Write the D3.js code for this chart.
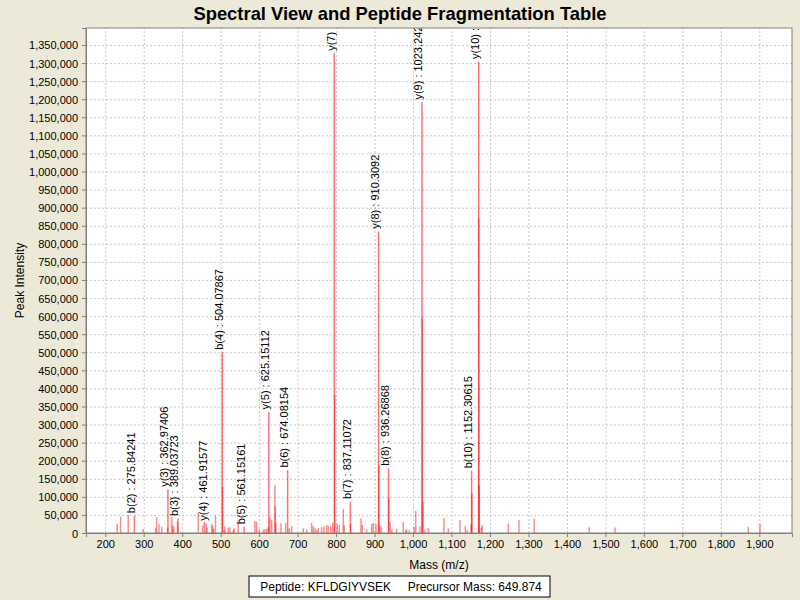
<!DOCTYPE html>
<html>
<head>
<meta charset="utf-8">
<script src="https://cdn.jsdelivr.net/npm/d3@7"></script>
<style>
  body { margin: 0; background: #ece9d8; overflow: hidden; }
  svg { font-family: "Liberation Sans", Arial, sans-serif; display: block; }
  .grid line { stroke: #c8c8c8; stroke-dasharray: 2,2; }
  .grid .domain { display: none; }
  .axis text { font-size: 11px; fill: #000; }
  .axis line, .axis path { stroke: #808080; }
</style>
</head>
<body>
<svg id="chart" width="800" height="600"></svg>
<script>
// unannotated peaks (m/z, intensity)
const peakMz = [231.2, 240.0, 259.8, 298.8, 331.0, 333.6, 339.6, 346.6, 362.2, 372.6,
  375.2, 377.8, 388.0, 441.7, 453.2, 457.3, 465.1, 476.6, 479.2, 481.8, 486.5, 505.1,
  508.5, 511.0, 519.8, 524.0, 532.7, 535.0, 545.6, 589.0, 593.5, 600.0, 610.7, 615.0,
  619.5, 623.7, 628.0, 632.5, 641.0, 642.0, 643.7, 656.7, 669.0, 678.3, 684.5, 714.7,
  723.5, 736.5, 740.7, 745.0, 749.5, 753.7, 762.5, 768.5, 775.5, 779.7, 786.0, 791.1,
  796.8, 803.0, 808.3, 818.7, 821.3, 838.0, 864.7, 868.0, 879.5, 892.5, 896.7, 903.7,
  911.2, 913.0, 917.5, 937.0, 940.5, 944.8, 957.5, 974.6, 981.0, 983.5, 990.5, 1003.0,
  1007.0, 1018.0, 1024.0, 1026.6, 1031.0, 1039.6, 1080.4, 1091.6, 1122.0, 1135.8,
  1141.0, 1150.5, 1153.0, 1171.2, 1172.0, 1177.4, 1180.0, 1247.6, 1275.4, 1315.2,
  1458.0, 1525.0, 1871.5, 1901.8];
const peakIntensity = [25000, 45000, 50000, 11000, 13000, 44000, 25000, 17000, 15000, 44000,
  22000, 17000, 31000, 57000, 20000, 31000, 15000, 25000, 20000, 12000, 49000, 127000,
  8000, 19000, 15000, 16000, 8000, 13000, 36000, 33000, 31000, 10000, 10000, 11000,
  12000, 17000, 43000, 36000, 133000, 73000, 27000, 27000, 28000, 13000, 19000, 13000,
  10000, 28000, 19000, 13000, 8000, 13000, 16000, 19000, 22000, 19000, 20000, 28000,
  382000, 25000, 22000, 66000, 22000, 25000, 40000, 22000, 10000, 25000, 27000, 25000,
  188000, 22000, 17000, 96000, 30000, 10000, 12000, 31000, 8000, 10000, 8000, 17000,
  61000, 19000, 595000, 87000, 10000, 13000, 42000, 13000, 36000, 19000,
  8000, 24000, 110000, 870000, 133000, 15000, 22000, 27000, 36000, 40000,
  16000, 15000, 17000, 25000];

// annotated fragment ions
const ionLabels = ["b(2)", "y(3)", "b(3)", "y(4)", "b(4)", "b(5)", "y(5)", "b(6)", "y(7)",
  "b(7)", "y(8)", "b(8)", "y(9)", "b(10)", "y(10)"];
const ionMz = [275.84241, 362.97406, 389.03723, 461.91577, 504.07867, 561.15161, 625.15112,
  674.08154, 795.34108, 837.11072, 910.3092, 936.26868, 1023.24213, 1152.30615, 1170.52241];
const ionIntensity = [48000, 121000, 40000, 27000, 500000, 17000, 335000, 174000, 1327000,
  87000, 835000, 179000, 1192000, 172000, 1304000];

const titleText = "Spectral View and Peptide Fragmentation Table";
const legendText = "Peptide: KFLDGIYVSEK     Precursor Mass: 649.874";

const svg = d3.select("#chart");
const width = +svg.attr("width");
const height = +svg.attr("height");
const margin = { top: 28, left: 86, right: 8, bottom: 67 };
const innerWidth = width - margin.left - margin.right;
const innerHeight = height - margin.top - margin.bottom;

const xScale = d3.scaleLinear().domain([150, 1985]).range([0, innerWidth]);
const yScale = d3.scaleLinear().domain([0, 1397000]).range([innerHeight, 0]);

svg.append("text")
  .attr("x", 400).attr("y", 20)
  .attr("text-anchor", "middle")
  .attr("font-size", 18.4).attr("font-weight", "bold")
  .text(titleText);

const chart = svg.append("g")
  .attr("transform", `translate(${margin.left},${margin.top})`);

chart.append("rect")
  .attr("width", innerWidth).attr("height", innerHeight)
  .attr("fill", "#fff");

chart.append("defs").append("clipPath").attr("id", "plotclip")
  .append("rect").attr("width", innerWidth).attr("height", innerHeight);

const xTicks = d3.range(200, 1901, 100);
const yTicks = d3.range(0, 1350001, 50000);

// gridlines (no labels)
chart.append("g").attr("class", "grid")
  .attr("transform", `translate(0,${innerHeight})`)
  .call(d3.axisBottom(xScale).tickValues(xTicks).tickSize(-innerHeight).tickFormat(""))
  .selectAll("text").remove();
chart.append("g").attr("class", "grid")
  .call(d3.axisLeft(yScale).tickValues(yTicks).tickSize(-innerWidth).tickFormat(""))
  .selectAll("text").remove();

const plot = chart.append("g").attr("clip-path", "url(#plotclip)");

plot.selectAll(".peak").data(peakMz).enter().append("line")
  .attr("class", "peak")
  .attr("x1", (d) => xScale(d)).attr("x2", (d) => xScale(d))
  .attr("y1", innerHeight)
  .attr("y2", (d, i) => yScale(peakIntensity[i]))
  .attr("stroke", "#ff0000").attr("stroke-opacity", 0.45).attr("stroke-width", 1.5);

plot.selectAll(".ion").data(ionMz).enter().append("line")
  .attr("class", "ion")
  .attr("x1", (d) => xScale(d)).attr("x2", (d) => xScale(d))
  .attr("y1", innerHeight)
  .attr("y2", (d, i) => yScale(ionIntensity[i]))
  .attr("stroke", "#ff0000").attr("stroke-opacity", 0.55).attr("stroke-width", 1.5);

plot.selectAll(".ionlabel").data(ionMz).enter().append("text")
  .attr("class", "ionlabel")
  .attr("transform", (d, i) => `translate(${xScale(d) + 0.5},${yScale(ionIntensity[i]) - 2.5}) rotate(-90)`)
  .attr("font-size", 11)
  .text((d, i) => `${ionLabels[i]} : ${d}`);

// axes
const fmt = d3.format(",");
chart.append("g").attr("class", "axis")
  .attr("transform", `translate(0,${innerHeight})`)
  .call(d3.axisBottom(xScale).tickValues(xTicks).tickSizeOuter(0).tickSize(4).tickPadding(3).tickFormat(fmt))
  .attr("font-family", null);
const yAxisG = chart.append("g").attr("class", "axis")
  .call(d3.axisLeft(yScale).tickValues(yTicks).tickSizeOuter(0).tickSize(4).tickFormat(fmt))
  .attr("font-family", null);
yAxisG.selectAll("text")
  .attr("x", -8).attr("dy", null).attr("y", 4)
  .attr("text-anchor", "end");

chart.append("rect")
  .attr("width", innerWidth).attr("height", innerHeight)
  .attr("fill", "none").attr("stroke", "#808080");

chart.append("text")
  .attr("x", innerWidth / 2).attr("y", innerHeight + 36)
  .attr("text-anchor", "middle").attr("font-size", 12)
  .text("Mass (m/z)");

chart.append("text")
  .attr("transform", "rotate(-90)")
  .attr("x", -innerHeight / 2).attr("y", -62)
  .attr("text-anchor", "middle").attr("font-size", 12)
  .text("Peak Intensity");

// legend box
const legend = svg.append("g").attr("transform", "translate(249,576)");
legend.append("rect")
  .attr("width", 301).attr("height", 21)
  .attr("fill", "#fff").attr("stroke", "#000");
legend.append("text")
  .attr("x", 152).attr("y", 15)
  .attr("text-anchor", "middle").attr("font-size", 12)
  .attr("xml:space", "preserve")
  .style("white-space", "pre")
  .text(legendText);
</script>
</body>
</html>
